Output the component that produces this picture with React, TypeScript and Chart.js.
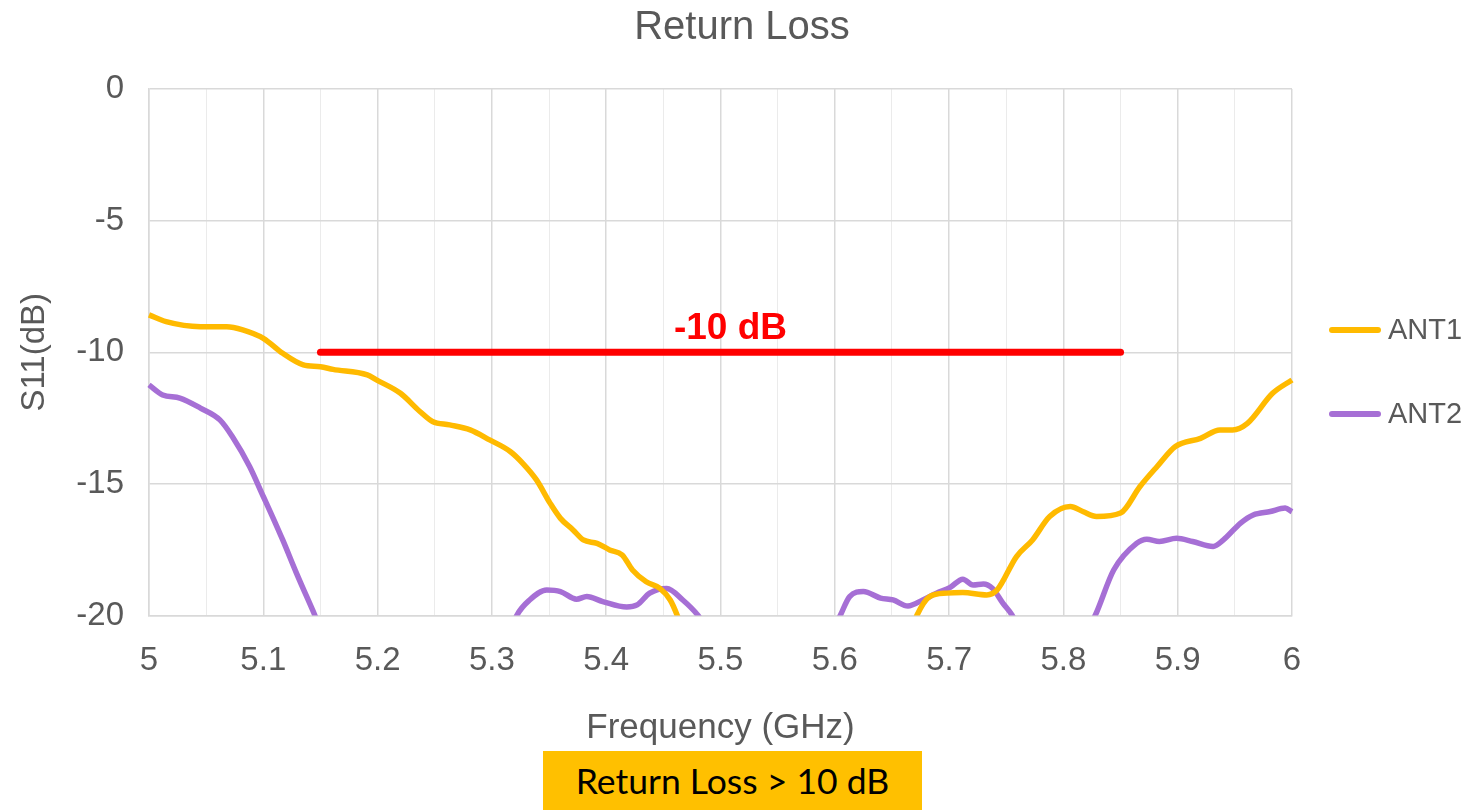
import { useEffect, useRef } from "react";
import { Chart, registerables } from "chart.js";

Chart.register(...registerables);

const chartTitle = "Return Loss";
const xAxisTitle = "Frequency (GHz)";
const yAxisTitle = "S11(dB)";
const noteText = "Return Loss > 10 dB";

const xTickLabels = ["5", "5.1", "5.2", "5.3", "5.4", "5.5", "5.6", "5.7", "5.8", "5.9", "6"];
const yTickLabels = ["-20", "-15", "-10", "-5", "0"];

const seriesNames = ["ANT1", "ANT2"];
const seriesColors = ["#FFBA00", "#A66FD5"];

const ant1Freq = [5.000, 5.015, 5.045, 5.068, 5.082, 5.100, 5.117, 5.135, 5.150, 5.161, 5.191, 5.199, 5.220, 5.237, 5.248, 5.263, 5.281, 5.298, 5.316, 5.327, 5.339, 5.351, 5.360, 5.371, 5.380, 5.392, 5.403, 5.414, 5.423, 5.435, 5.447, 5.456, 5.462, 5.475, 5.560, 5.660, 5.672, 5.683, 5.698, 5.712, 5.733, 5.742, 5.759, 5.773, 5.788, 5.806, 5.817, 5.829, 5.850, 5.867, 5.882, 5.898, 5.920, 5.937, 5.948, 5.961, 5.983, 6.000];
const ant1Loss = [-8.58, -8.84, -9.03, -9.03, -9.15, -9.47, -10.04, -10.48, -10.55, -10.65, -10.86, -11.05, -11.56, -12.25, -12.63, -12.76, -12.95, -13.33, -13.77, -14.22, -14.85, -15.74, -16.31, -16.75, -17.13, -17.26, -17.51, -17.70, -18.27, -18.72, -18.97, -19.41, -19.98, -21.6, -27.0, -21.4, -19.98, -19.28, -19.15, -19.13, -19.22, -19.03, -17.76, -17.13, -16.24, -15.86, -16.05, -16.24, -16.11, -15.10, -14.34, -13.58, -13.27, -12.95, -12.95, -12.70, -11.56, -11.05];

const ant2Freq = [5.000, 5.012, 5.027, 5.045, 5.062, 5.073, 5.088, 5.100, 5.108, 5.117, 5.129, 5.145, 5.160, 5.240, 5.310, 5.322, 5.333, 5.348, 5.360, 5.374, 5.383, 5.397, 5.418, 5.427, 5.438, 5.453, 5.467, 5.480, 5.495, 5.545, 5.592, 5.605, 5.613, 5.625, 5.640, 5.651, 5.664, 5.677, 5.689, 5.701, 5.712, 5.721, 5.730, 5.738, 5.747, 5.755, 5.768, 5.792, 5.815, 5.828, 5.844, 5.864, 5.873, 5.884, 5.899, 5.913, 5.931, 5.940, 5.955, 5.966, 5.981, 5.994, 6.000];
const ant2Loss = [-11.24, -11.62, -11.74, -12.12, -12.57, -13.21, -14.34, -15.48, -16.24, -17.13, -18.39, -19.98, -21.5, -30.0, -21.3, -19.98, -19.41, -19.03, -19.09, -19.38, -19.28, -19.47, -19.68, -19.60, -19.15, -18.97, -19.41, -19.98, -21.0, -25.0, -21.2, -19.98, -19.28, -19.09, -19.34, -19.41, -19.64, -19.41, -19.15, -18.93, -18.62, -18.84, -18.80, -18.97, -19.53, -19.98, -21.1, -23.0, -21.0, -19.98, -18.27, -17.26, -17.10, -17.19, -17.07, -17.19, -17.38, -17.13, -16.49, -16.18, -16.05, -15.92, -16.06];

const limitFreq = [5.15, 5.85];
const limitLoss = [-10, -10];
const limitLabel = "-10 dB";
const limitColor = "#FF0000";

const FONT = "'Liberation Sans', Arial, sans-serif";
const TEXT_COLOR = "#595959";
const GRID_MAJOR = "#d9d9d9";
const GRID_MINOR = "#ebebeb";

const zip = (xs: number[], ys: number[]) => xs.map((x, i) => ({ x, y: ys[i] }));

const isMajorX = (v: number) => Math.abs(v * 10 - Math.round(v * 10)) < 1e-6;

const overlayPlugin = {
  id: "overlayPlugin",
  afterDatasetsDraw(chart: any) {
    const { ctx, chartArea, scales, width } = chart;
    const xs = scales.x;
    const ys = scales.y;
    ctx.save();
    // chart title, centred on the whole canvas
    ctx.font = `40px ${FONT}`;
    ctx.fillStyle = TEXT_COLOR;
    ctx.textAlign = "center";
    ctx.textBaseline = "middle";
    ctx.fillText(chartTitle, width / 2, 28);

    // -10 dB label
    const midFreq = (limitFreq[0] + limitFreq[1]) / 2;
    const lx = xs.getPixelForValue(midFreq) + 10;
    const ly = ys.getPixelForValue(limitLoss[0]) - 23;
    ctx.font = `bold 37px ${FONT}`;
    ctx.fillStyle = limitColor;
    ctx.fillText(limitLabel, lx, ly);

    // legend
    const items = chart.data.datasets.filter((d: any) => seriesNames.includes(d.label));
    items.forEach((d: any, i: number) => {
      const y = chartArea.top + 241 + i * 84;
      const x0 = chartArea.right + 40;
      ctx.strokeStyle = d.borderColor;
      ctx.lineWidth = 6;
      ctx.lineCap = "round";
      ctx.beginPath();
      ctx.moveTo(x0, y);
      ctx.lineTo(x0 + 46, y);
      ctx.stroke();
      ctx.font = `29px ${FONT}`;
      ctx.fillStyle = TEXT_COLOR;
      ctx.textAlign = "left";
      ctx.textBaseline = "middle";
      ctx.fillText(d.label, x0 + 56, y + 1);
    });
    ctx.restore();
  },
};

export default function App() {
  const canvasRef = useRef<HTMLCanvasElement | null>(null);

  useEffect(() => {
    const canvas = canvasRef.current;
    if (!canvas) return;
    const seriesStyle = {
      borderWidth: 5.5,
      pointRadius: 0,
      cubicInterpolationMode: "monotone",
      borderJoinStyle: "round",
      clip: { left: 4, right: 4, top: 4, bottom: 0 },
    };
    const chart = new Chart(canvas, {
      type: "line",
      data: {
        datasets: [
          {
            label: seriesNames[0],
            data: zip(ant1Freq, ant1Loss),
            borderColor: seriesColors[0],
            backgroundColor: seriesColors[0],
            ...seriesStyle,
          },
          {
            label: seriesNames[1],
            data: zip(ant2Freq, ant2Loss),
            borderColor: seriesColors[1],
            backgroundColor: seriesColors[1],
            ...seriesStyle,
          },
          {
            label: "limit",
            data: zip(limitFreq, limitLoss),
            borderColor: limitColor,
            backgroundColor: limitColor,
            borderWidth: 7,
            borderCapStyle: "round",
            pointRadius: 0,
          },
        ],
      },
      options: {
        responsive: false,
        animation: false,
        devicePixelRatio: 1,
        layout: { padding: { left: 0, right: 192, top: 89, bottom: 0 } },
        plugins: {
          legend: { display: false },
          tooltip: { enabled: false },
          title: { display: false },
        },
        scales: {
          x: {
            type: "linear",
            min: 5,
            max: 6,
            afterFit: (s: any) => {
              s.height = 194.5;
            },
            ticks: {
              stepSize: 0.05,
              autoSkip: false,
              maxRotation: 0,
              padding: 26,
              color: TEXT_COLOR,
              font: { family: FONT, size: 33 },
              callback: (_v: any, i: number) => (i % 2 === 0 ? xTickLabels[i / 2] : ""),
            },
            grid: {
              drawTicks: false,
              color: (c: any) => (isMajorX(c.tick?.value ?? 0) ? GRID_MAJOR : GRID_MINOR),
              lineWidth: (c: any) => (isMajorX(c.tick?.value ?? 0) ? 1.5 : 1),
            },
            border: { color: GRID_MAJOR, width: 1.5 },
            title: {
              display: true,
              text: xAxisTitle,
              color: TEXT_COLOR,
              font: { family: FONT, size: 35 },
              padding: { top: 0, bottom: 61 },
            },
          },
          y: {
            type: "linear",
            min: -20,
            max: 0,
            afterFit: (s: any) => {
              s.width = 149;
            },
            ticks: {
              stepSize: 5,
              padding: 25,
              color: TEXT_COLOR,
              font: { family: FONT, size: 33 },
              callback: (_v: any, i: number) => yTickLabels[i],
            },
            grid: { drawTicks: false, color: GRID_MAJOR, lineWidth: 1.5 },
            border: { color: GRID_MAJOR, width: 1.5 },
            title: {
              display: true,
              text: yAxisTitle,
              color: TEXT_COLOR,
              font: { family: FONT, size: 33 },
              padding: { top: 15, bottom: 0 },
            },
          },
        },
      },
      plugins: [overlayPlugin],
    } as any);
    return () => chart.destroy();
  }, []);

  return (
    <div style={{ position: "fixed", left: 0, top: 0, width: 1484, height: 810, background: "#ffffff", overflow: "hidden" }}>
      <canvas ref={canvasRef} width={1484} height={810} style={{ display: "block" }} />
      <div
        style={{
          position: "absolute",
          left: 543,
          top: 751,
          width: 379,
          height: 59,
          background: "#FFC000",
          color: "#000000",
          fontFamily: "Lato, 'Noto Sans', sans-serif",
          fontSize: 35.5,
          lineHeight: "59px",
          textAlign: "center",
          whiteSpace: "nowrap",
        }}
      >
        {noteText}
      </div>
    </div>
  );
}
